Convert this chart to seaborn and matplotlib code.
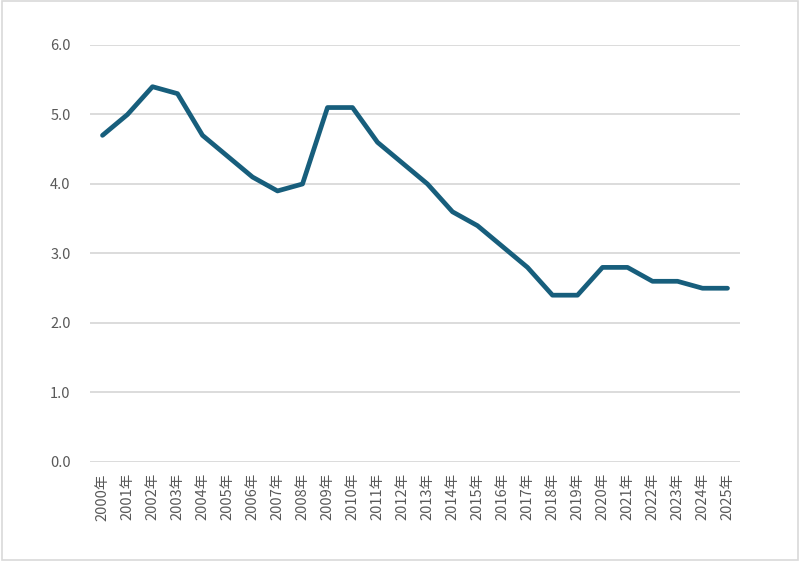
import matplotlib
matplotlib.use("Agg")
import matplotlib.pyplot as plt
import seaborn as sns
import pandas as pd

years = [f"{y}年" for y in range(2000, 2026)]
values = [4.7, 5.0, 5.4, 5.3, 4.7, 4.4, 4.1, 3.9, 4.0, 5.1, 5.1, 4.6, 4.3,
          4.0, 3.6, 3.4, 3.1, 2.8, 2.4, 2.4, 2.8, 2.8, 2.6, 2.6, 2.5, 2.5]

df = pd.DataFrame({"year": years, "value": values})

sns.set_style("white")
plt.rcParams['font.family'] = ['Noto Sans CJK SC', 'DejaVu Sans']

fig = plt.figure(figsize=(8, 5.61), dpi=100)
ax = fig.add_axes([0.1125, 0.1765, 0.8125, 0.7433])

sns.lineplot(data=df, x="year", y="value", ax=ax, color="#175e7c",
             linewidth=3.4, sort=False)

ax.set_xlim(-0.5, len(years) - 0.5)
ax.set_ylim(0, 6)
ax.set_yticks([0, 1, 2, 3, 4, 5, 6])
ax.set_yticklabels([f"{v:.1f}" for v in range(7)])
ax.yaxis.grid(True, color="#d9d9d9", linewidth=1.3)
ax.set_axisbelow(True)
for s in ax.spines.values():
    s.set_visible(False)
ax.set_xlabel("")
ax.set_ylabel("")
ax.tick_params(axis="x", rotation=90, labelsize=10.5, colors="#595959", length=0, pad=8)
ax.tick_params(axis="y", labelsize=10.5, colors="#595959", length=0, pad=14)

# outer border
fig.patches.append(plt.Rectangle((0.002, 0.002), 0.996, 0.996, transform=fig.transFigure,
                                 fill=False, edgecolor="#d9d9d9", linewidth=1.2))

fig.savefig("out.png", dpi=100)
